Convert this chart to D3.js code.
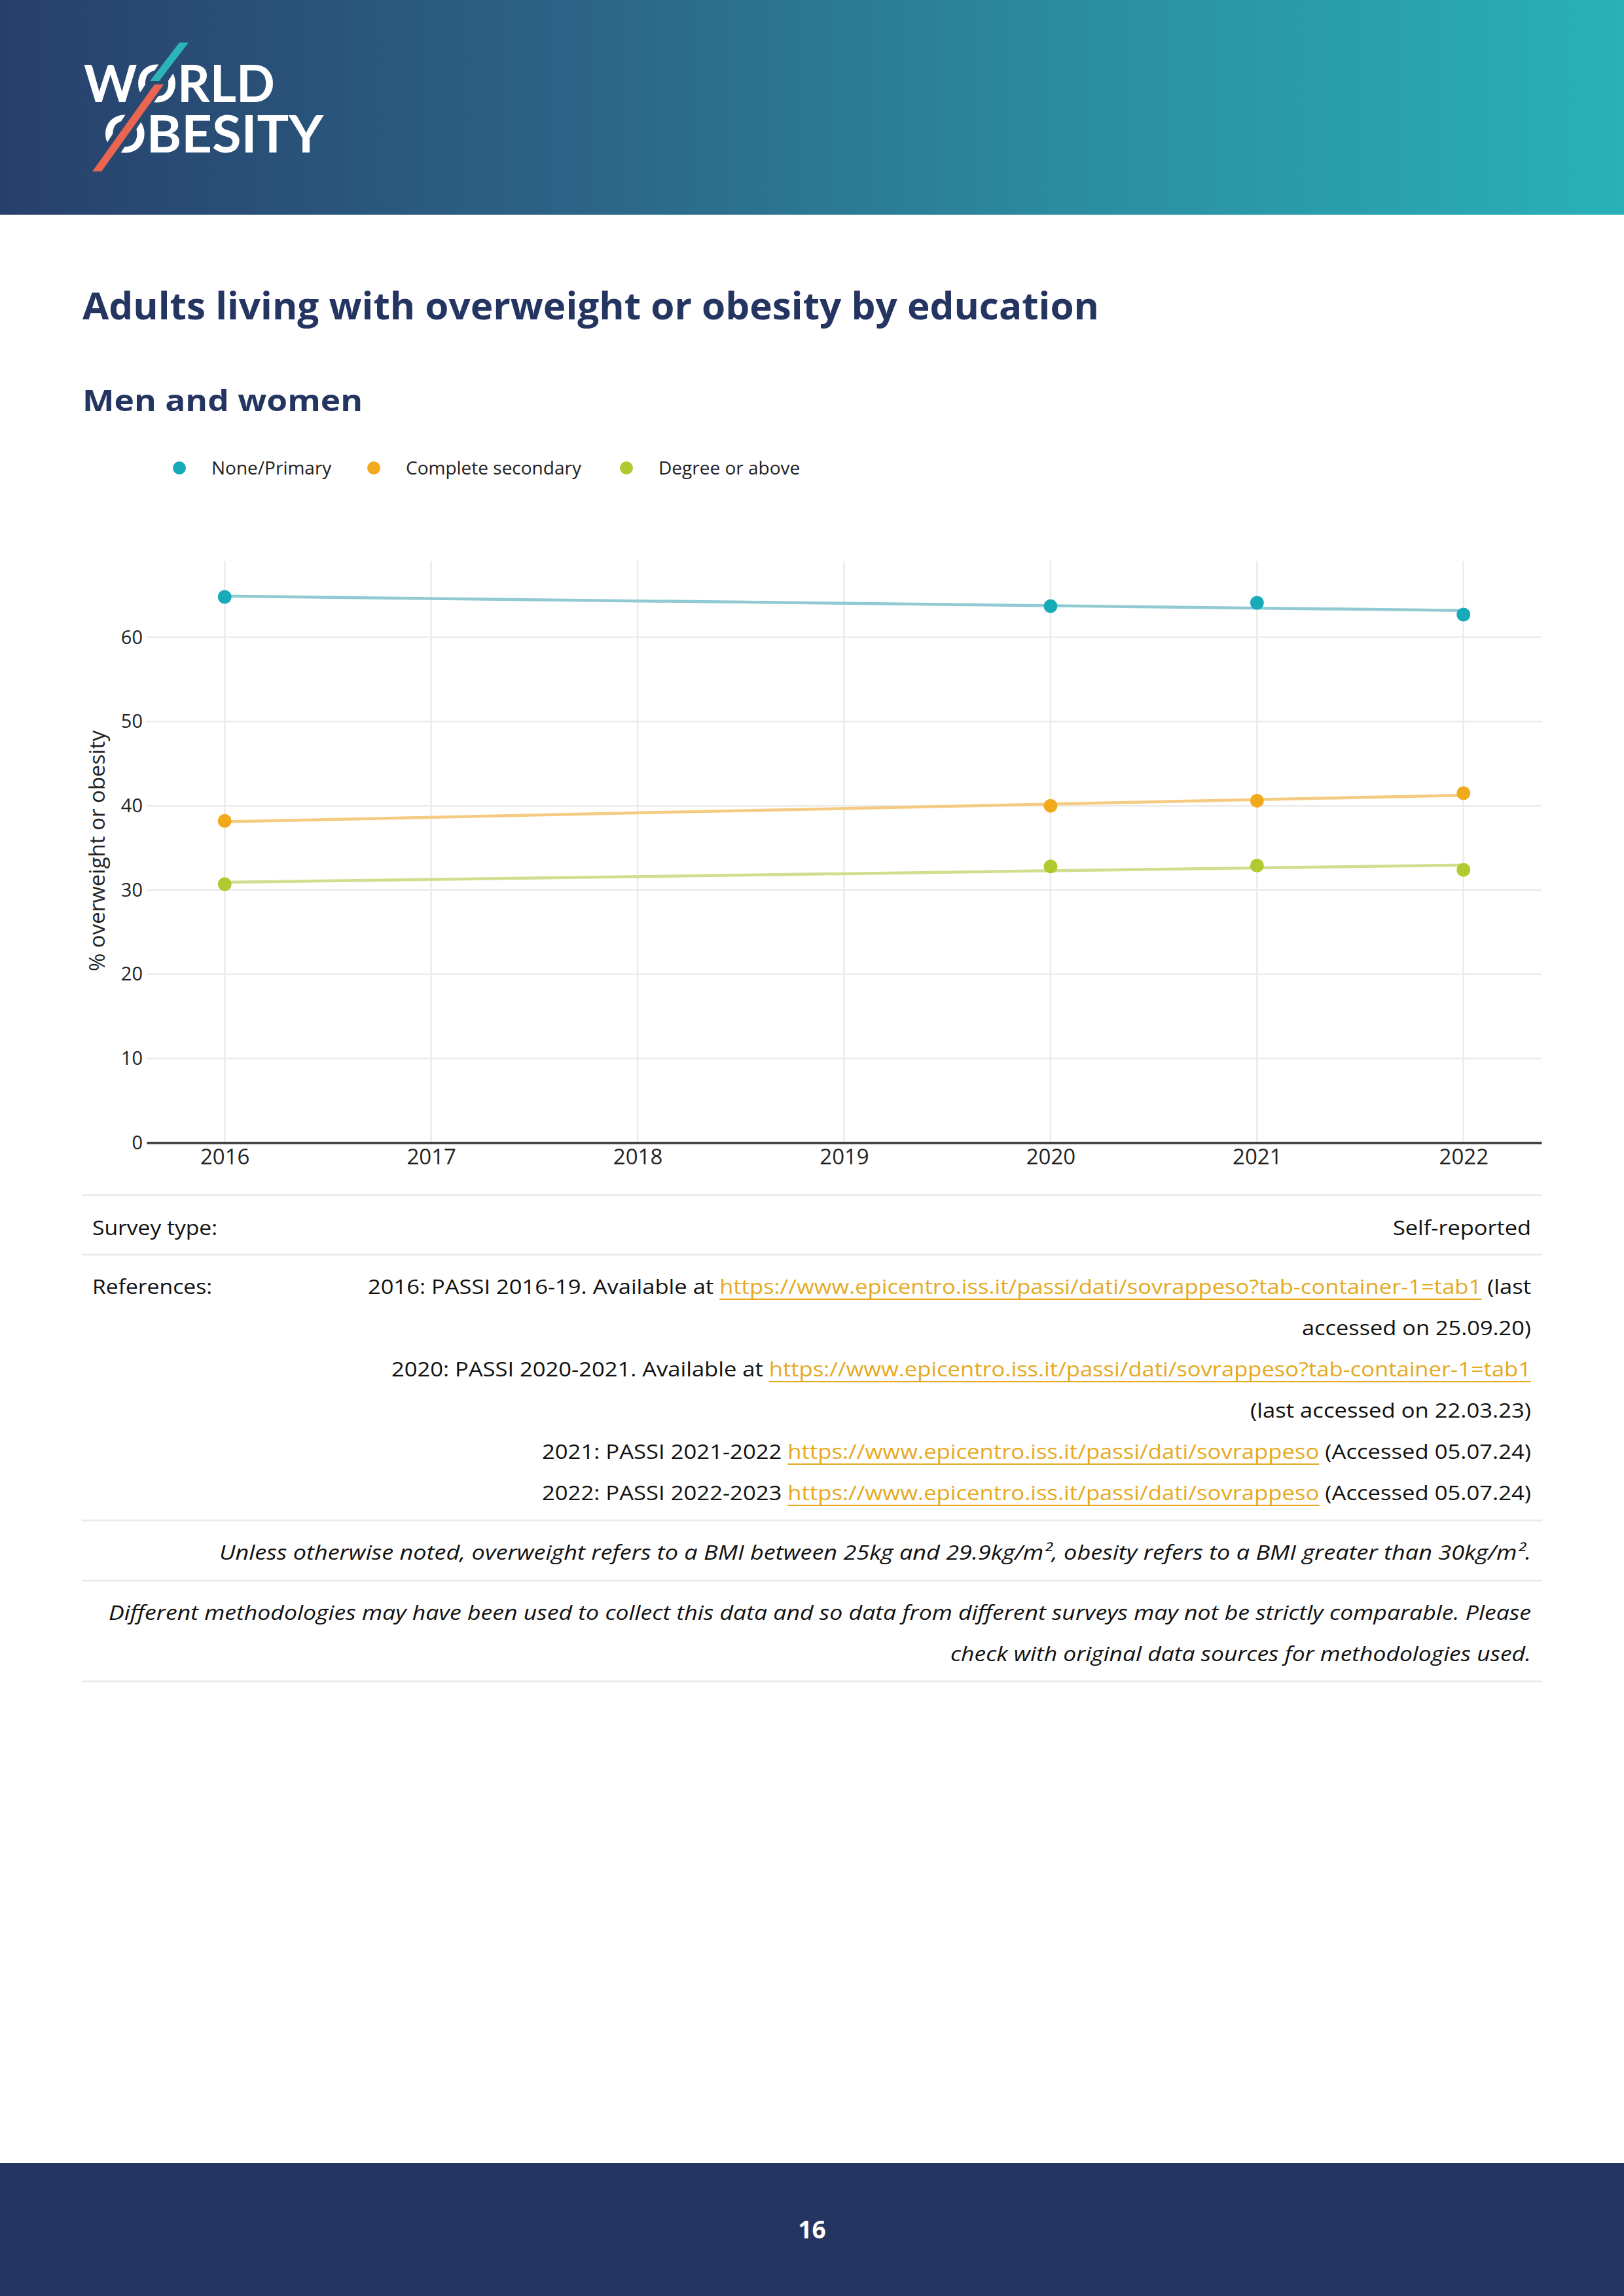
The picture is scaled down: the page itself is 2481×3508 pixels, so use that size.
<!DOCTYPE html>
<html>
<head>
  <meta charset="utf-8">
  <script src="https://d3js.org/d3.v7.min.js"></script>
  <style>
    body { margin: 0; background: #fff; }
    svg { display: block; }
  </style>
</head>
<body>
<script type="text/javascript">
  // ---- data ----
  var years = [2016, 2020, 2021, 2022];
  var seriesNames = ["None/Primary", "Complete secondary", "Degree or above"];
  var nonePrimary = [64.8, 63.7, 64.1, 62.7];
  var completeSecondary = [38.2, 40.0, 40.6, 41.5];
  var degreeOrAbove = [30.7, 32.8, 32.9, 32.4];
  var xTicks = [2016, 2017, 2018, 2019, 2020, 2021, 2022];
  var yTicks = [0, 10, 20, 30, 40, 50, 60];

  var title = "Adults living with overweight or obesity by education";
  var subtitle = "Men and women";
  var yTitle = "% overweight or obesity";
  var link1 = "https://www.epicentro.iss.it/passi/dati/sovrappeso?tab-container-1=tab1";
  var link2 = "https://www.epicentro.iss.it/passi/dati/sovrappeso";
  var refLines = [
    [["2016: PASSI 2016-19. Available at ", 0], [link1, 1], [" (last", 0]],
    [["accessed on 25.09.20)", 0]],
    [["2020: PASSI 2020-2021. Available at ", 0], [link1, 1]],
    [["(last accessed on 22.03.23)", 0]],
    [["2021: PASSI 2021-2022 ", 0], [link2, 1], [" (Accessed 05.07.24)", 0]],
    [["2022: PASSI 2022-2023 ", 0], [link2, 1], [" (Accessed 05.07.24)", 0]]
  ];
  // measured widths of the reference lines, px
  var refWidths = [1777, 350, 1741, 429, 1511, 1511];

  function draw() {
    "use strict";

    var W = 2481, H = 3508;
    var navy = "#253561";
    var markerColors = ["#17abb9", "#f1aa1d", "#b2c92f"];
    var lineColors = ["#91cad2", "#f5cb82", "#d0de8e"];
    var seriesValues = [nonePrimary, completeSecondary, degreeOrAbove];

    var svg = d3.select("body").append("svg")
        .attr("width", W)
        .attr("height", H);

    // header band
    var defs = svg.append("defs");
    var grad = defs.append("linearGradient")
        .attr("id", "hdr")
        .attr("gradientUnits", "userSpaceOnUse")
        .attr("x1", 0).attr("y1", 0).attr("x2", W).attr("y2", 0);
    grad.append("stop").attr("offset", "0%").attr("stop-color", "#27406b");
    grad.append("stop").attr("offset", "35%").attr("stop-color", "#2c6386");
    grad.append("stop").attr("offset", "65%").attr("stop-color", "#2b8b9f");
    grad.append("stop").attr("offset", "100%").attr("stop-color", "#29b1b7");

    svg.append("rect")
        .attr("x", 0).attr("y", 0)
        .attr("width", W).attr("height", 328)
        .attr("fill", "url(#hdr)");

    // logo: one text block, two lines
    var logo = svg.append("g").attr("class", "logo");
    var logoText = logo.append("text")
        .style("font-family", "Lato, sans-serif")
        .style("font-weight", 700)
        .style("font-size", "78px")
        .style("fill", "#fff");
    logoText.append("tspan")
        .attr("x", 128).attr("y", 156)
        .attr("textLength", 292).attr("lengthAdjust", "spacingAndGlyphs")
        .text("WORLD");
    logoText.append("tspan")
        .attr("x", 158).attr("y", 233)
        .attr("textLength", 336).attr("lengthAdjust", "spacingAndGlyphs")
        .text("OBESITY");
    // gap under the slash, painted with the header gradient
    logo.append("line")
        .attr("x1", 282).attr("y1", 62).attr("x2", 150).attr("y2", 262)
        .attr("stroke", "url(#hdr)").attr("stroke-width", 26);
    logo.append("polygon")
        .attr("points", "274,65 288,65 243,124 229,124")
        .attr("fill", "#2bb5b8");
    logo.append("polygon")
        .attr("points", "236,129 250,129 155,262 141,262")
        .attr("fill", "#ea6650");

    // titles
    svg.append("text")
        .attr("x", 126).attr("y", 488)
        .attr("textLength", 1553).attr("lengthAdjust", "spacingAndGlyphs")
        .style("font-family", "'Open Sans', sans-serif")
        .style("font-weight", 700)
        .style("font-size", "57px")
        .style("fill", navy)
        .text(title);
    svg.append("text")
        .attr("x", 126).attr("y", 628)
        .attr("textLength", 428).attr("lengthAdjust", "spacingAndGlyphs")
        .style("font-family", "'Open Sans', sans-serif")
        .style("font-weight", 700)
        .style("font-size", "45px")
        .style("fill", navy)
        .text(subtitle);

    // legend
    var legX = [274, 571, 957];
    var legend = svg.append("g").attr("class", "legend");
    seriesNames.forEach(function(name, i) {
      legend.append("circle")
          .attr("cx", legX[i]).attr("cy", 715).attr("r", 10)
          .attr("fill", markerColors[i]);
      legend.append("text")
          .attr("x", legX[i] + 49).attr("y", 725)
          .style("font-family", "'Open Sans', sans-serif")
          .style("font-size", "28px")
          .style("fill", "#222")
          .text(name);
    });

    // plot
    var left = 224, right = 2355, top = 857, bottom = 1746;
    var x = d3.scaleLinear().domain([2015.622, 2022.378]).range([left, right]);
    var y = d3.scaleLinear().domain([0, 69.07]).range([bottom, top]);

    var plot = svg.append("g").attr("class", "plot");

    plot.append("g").selectAll("line.v")
        .data(xTicks).enter().append("line")
        .attr("x1", function(d) { return x(d); })
        .attr("x2", function(d) { return x(d); })
        .attr("y1", top).attr("y2", bottom)
        .attr("stroke", "#ebebeb").attr("stroke-width", 2.5);

    plot.append("g").selectAll("line.h")
        .data(yTicks.filter(function(d) { return d > 0; })).enter().append("line")
        .attr("x1", left).attr("x2", right)
        .attr("y1", function(d) { return y(d); })
        .attr("y2", function(d) { return y(d); })
        .attr("stroke", "#ebebeb").attr("stroke-width", 2.5);

    var yAxis = plot.append("g")
        .attr("transform", "translate(" + left + ",0)")
        .call(d3.axisLeft(y).tickValues(yTicks).tickSize(0).tickPadding(6));
    yAxis.select(".domain").remove();
    yAxis.selectAll("text")
        .style("font-family", "'Open Sans', sans-serif")
        .style("font-size", "29px")
        .style("fill", "#222");

    var xAxis = plot.append("g")
        .attr("transform", "translate(0," + bottom + ")")
        .call(d3.axisBottom(x).tickValues(xTicks).tickFormat(d3.format("d")).tickSize(0).tickPadding(10));
    xAxis.select(".domain").attr("stroke", "#444").attr("stroke-width", 3.5);
    xAxis.selectAll("text")
        .style("font-family", "'Open Sans', sans-serif")
        .style("font-size", "33px")
        .style("fill", "#222");

    plot.append("text")
        .attr("transform", "translate(160," + 1300 + ") rotate(-90)")
        .attr("text-anchor", "middle")
        .style("font-family", "'Open Sans', sans-serif")
        .style("font-size", "33px")
        .style("fill", "#222")
        .text(yTitle);

    // linear trend lines (least squares over the plotted points) and markers
    seriesValues.forEach(function(vals, i) {
      var mx = d3.mean(years), my = d3.mean(vals);
      var sxy = d3.sum(years, function(yr, k) { return (yr - mx) * (vals[k] - my); });
      var sxx = d3.sum(years, function(yr) { return (yr - mx) * (yr - mx); });
      var slope = sxy / sxx;
      var ends = [years[0], years[years.length - 1]];
      var line = d3.line()
          .x(function(d) { return x(d); })
          .y(function(d) { return y(my + slope * (d - mx)); });
      plot.append("path")
          .datum(ends)
          .attr("d", line)
          .attr("fill", "none")
          .attr("stroke", lineColors[i])
          .attr("stroke-width", 4.5);
      plot.append("g").selectAll("circle")
          .data(vals).enter().append("circle")
          .attr("cx", function(d, k) { return x(years[k]); })
          .attr("cy", function(d) { return y(d); })
          .attr("r", 10.5)
          .attr("fill", markerColors[i]);
    });

    // notes table
    var tx0 = 141, tx1 = 2339;
    var sep = [1826, 1917, 2323, 2415, 2569];
    svg.append("g").selectAll("line")
        .data(sep).enter().append("line")
        .attr("x1", 125).attr("x2", 2356)
        .attr("y1", function(d) { return d; })
        .attr("y2", function(d) { return d; })
        .attr("stroke", "#e7ecf1").attr("stroke-width", 3);

    var bodyFont = "'Open Sans', sans-serif";
    function bodyText(xp, yp, anchor, str, len, italic) {
      return svg.append("text")
          .attr("x", xp).attr("y", yp)
          .attr("text-anchor", anchor)
          .attr("textLength", len).attr("lengthAdjust", "spacingAndGlyphs")
          .style("font-family", bodyFont)
          .style("font-size", "31px")
          .style("font-style", italic ? "italic" : "normal")
          .style("fill", "#111")
          .text(str);
    }
    bodyText(tx0, 1887, "start", "Survey type:", 191);
    bodyText(tx1, 1887, "end", "Self-reported", 211);
    bodyText(tx0, 1977, "start", "References:", 183);

    refLines.forEach(function(segs, i) {
      var yy = 1977 + i * 63;
      var t = svg.append("text")
          .attr("x", tx1).attr("y", yy)
          .attr("text-anchor", "end")
          .attr("textLength", refWidths[i]).attr("lengthAdjust", "spacingAndGlyphs")
          .style("font-family", bodyFont)
          .style("font-size", "31px")
          .style("fill", "#111");
      var pos = 0, spans = [];
      segs.forEach(function(s) {
        t.append("tspan")
            .style("fill", s[1] ? "#e6a91f" : "#111")
            .text(s[0]);
        spans.push([pos, pos + s[0].length - 1, s[1]]);
        pos += s[0].length;
      });
      spans.forEach(function(sp) {
        if (!sp[2]) return;
        var node = t.node();
        var a = node.getStartPositionOfChar(sp[0]).x;
        var b = node.getEndPositionOfChar(sp[1]).x;
        svg.append("line")
            .attr("x1", a).attr("x2", b)
            .attr("y1", yy + 8).attr("y2", yy + 8)
            .attr("stroke", "#e6a91f").attr("stroke-width", 2);
      });
    });

    bodyText(tx1, 2383, "end",
      "Unless otherwise noted, overweight refers to a BMI between 25kg and 29.9kg/m², obesity refers to a BMI greater than 30kg/m².", 2004, true);
    bodyText(tx1, 2475, "end",
      "Different methodologies may have been used to collect this data and so data from different surveys may not be strictly comparable. Please", 2173, true);
    bodyText(tx1, 2538, "end", "check with original data sources for methodologies used.", 887, true);

    // footer
    svg.append("rect")
        .attr("x", 0).attr("y", 3305)
        .attr("width", W).attr("height", H - 3305)
        .attr("fill", navy);
    svg.append("text")
        .attr("x", W / 2).attr("y", 3420)
        .attr("text-anchor", "middle")
        .style("font-family", "'Open Sans', sans-serif")
        .style("font-weight", 700)
        .style("font-size", "37px")
        .style("fill", "#fff")
        .text("16");
  }

  draw();
</script>
</body>
</html>
